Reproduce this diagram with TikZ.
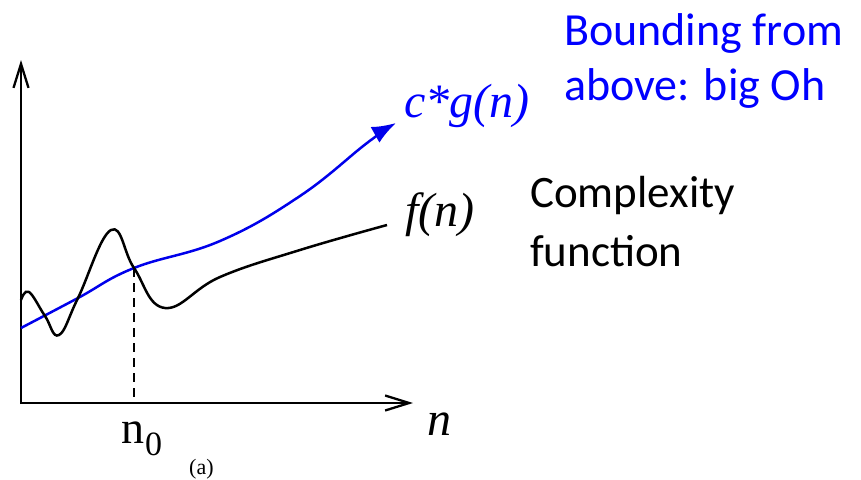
\documentclass[tikz,border=0pt]{standalone}
\usepackage{fontspec}
\setmainfont{Carlito}
\newfontfamily\tms{Liberation Serif}
\usetikzlibrary{arrows.meta}
\definecolor{cblue}{RGB}{0,0,235}
\definecolor{tblue}{RGB}{0,0,255}
\begin{document}
\begin{tikzpicture}[x=1pt,y=-1pt,
  axis/.style={line width=2.3pt,-{Straight Barb[length=24pt,width=15pt]}},
  curve/.style={line width=2.5pt},
  lbl/.style={inner sep=0pt,anchor=base west},
  mathlbl/.style={lbl,font=\tms\itshape\fontsize{48}{54}\selectfont}]
\useasboundingbox (0,0) rectangle (861,479);
\coordinate (O) at (21,404);
\coordinate (ytop) at (21,60);
\coordinate (xo) at (20,403);
\coordinate (xend) at (413,403);
\coordinate (X) at (134,268);
\coordinate (Xb) at (134,403);
\draw[axis] (O) -- (ytop);
\draw[axis] (xo) -- (xend);
\draw[line width=1.9pt,dash pattern=on 9pt off 6pt] (X) -- (Xb);
\draw[curve,cblue,-{Latex[length=24pt,width=18pt]}] plot[smooth,tension=0.7] coordinates {(21,328) (78,298) (134,268) (220,241) (300,196) (367,143) (396,123)};
\draw[curve,black] plot[smooth,tension=0.7] coordinates {(21,300) (29,292) (45,316) (59,335) (78,298) (111,230) (134,268) (165,308) (220,277) (300,250) (387,225)};
\node[mathlbl,text=tblue] (cg) at (404,117) {c*g(n)};
\node[mathlbl] (fn) at (405,226) {f(n)};
\node[mathlbl] (n) at (427,435) {n};
\node[lbl,font=\tms\fontsize{46}{50}\selectfont] (n0) at (121,443) {n};
\node[lbl,font=\tms\fontsize{34}{40}\selectfont] (n0sub) at (145,455) {0};
\node[lbl,font=\tms\fontsize{22}{26}\selectfont] (a) at (189,474) {(a)};
\node[lbl,text=tblue,font=\fontsize{46}{55}\selectfont,align=left] (bound) at (564,100) {Bounding from\\above: big Oh};
\node[lbl,font=\fontsize{45}{59}\selectfont,align=left] (cx) at (530,266) {Complexity\\function};
\end{tikzpicture}
\end{document}
